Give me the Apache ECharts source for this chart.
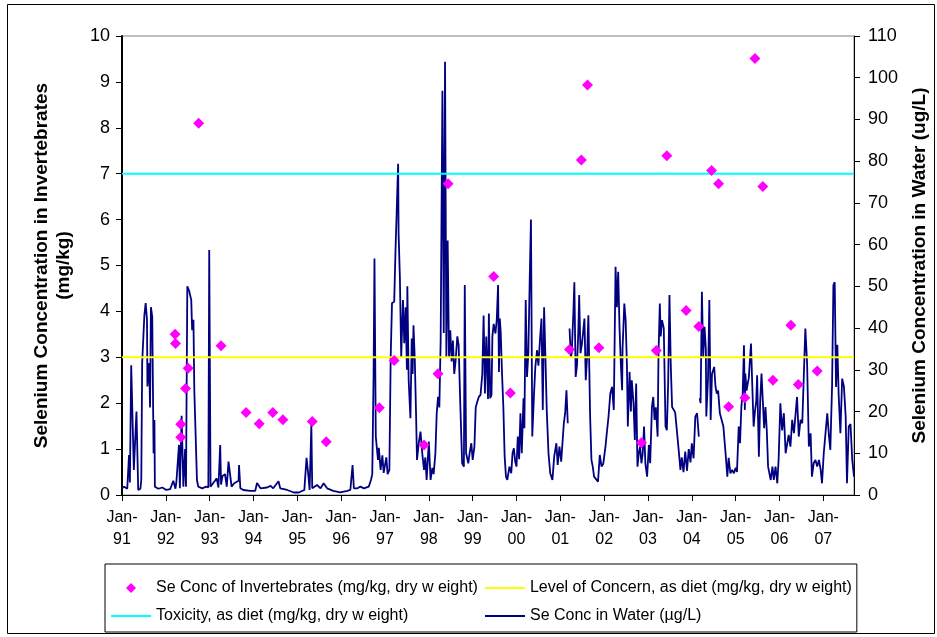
<!DOCTYPE html>
<html>
<head>
<meta charset="utf-8">
<script src="https://cdn.jsdelivr.net/npm/echarts@6/dist/echarts.min.js"></script>
<style>
  html, body { margin: 0; padding: 0; background: #fff; }
  #chart { width: 937px; height: 637px; }
</style>
</head>
<body>
<div id="chart"></div>
<script>
// x axis runs in decimal years, labelled Jan-yy
var yearStart = 1991
var yearEnd = 2007.70

// Se in invertebrates, mg/kg dry weight  [year, value]
var invertebrates = [
  [1992.21, 3.50], [1992.22, 3.30], [1992.34, 1.54], [1992.34, 1.26], [1992.45, 2.32],
  [1992.51, 2.76], [1992.75, 8.10], [1993.26, 3.25], [1993.83, 1.80], [1994.13, 1.55],
  [1994.44, 1.80], [1994.67, 1.64], [1995.34, 1.60], [1995.66, 1.16], [1996.87, 1.90],
  [1997.21, 2.93], [1997.89, 1.09], [1998.21, 2.64], [1998.44, 6.78], [1999.48, 4.76],
  [1999.86, 2.22], [2001.21, 3.17], [2001.48, 7.30], [2001.62, 8.93], [2001.88, 3.21],
  [2002.85, 1.14], [2003.19, 3.15], [2003.43, 7.39], [2003.87, 4.02], [2004.16, 3.67],
  [2004.45, 7.07], [2004.61, 6.78], [2004.84, 1.92], [2005.21, 2.12], [2005.44, 9.51],
  [2005.62, 6.72], [2005.85, 2.50], [2006.26, 3.70], [2006.43, 2.41], [2006.86, 2.70]
]

var concernLevel = 3
var toxicityLevel = 7

// Se in water, ug/L  [year, value], null = gap in record
var water = [
  [1991.00,1.6],[1991.05,2.0],[1991.12,1.5],[1991.16,9.6],[1991.18,3.0],[1991.21,31.1],[1991.27,6.0],[1991.33,20.0],[1991.37,1.2],[1991.42,1.5],[1991.44,3.6],[1991.46,31.6],[1991.51,43.0],[1991.54,46.0],[1991.57,42.0],[1991.58,26.0],[1991.62,31.6],[1991.64,21.0],[1991.66,45.0],[1991.69,42.7],[1991.72,10.0],[1991.74,18.0],[1991.75,2.0],[1991.83,1.5],[1991.92,1.8],
  [1992.01,1.2],[1992.10,1.4],[1992.17,3.4],[1992.22,1.5],[1992.24,3.0],[1992.30,12.0],[1992.32,1.6],[1992.36,19.0],[1992.40,2.0],[1992.44,11.0],[1992.46,2.0],[1992.49,50.0],[1992.53,49.0],[1992.58,46.7],[1992.60,39.5],[1992.63,42.0],[1992.65,25.0],[1992.68,24.7],[1992.71,3.6],[1992.74,2.0],[1992.83,1.6],[1992.92,2.0],[1992.97,1.8],[1992.99,58.7],
  [1993.02,2.0],[1993.12,3.4],[1993.16,4.0],[1993.20,1.8],[1993.24,12.0],[1993.26,2.5],[1993.29,4.5],[1993.35,5.0],[1993.39,2.0],[1993.43,8.0],[1993.50,2.0],[1993.56,2.8],[1993.66,3.4],[1993.67,7.2],[1993.70,1.6],[1993.77,1.2],[1993.93,1.0],
  [1994.04,1.0],[1994.08,2.9],[1994.16,1.6],[1994.31,1.8],[1994.39,2.2],[1994.45,1.6],[1994.57,3.3],[1994.61,1.6],[1994.77,1.2],[1994.92,0.6],
  [1995.03,0.6],[1995.16,1.2],[1995.21,8.9],[1995.25,4.9],[1995.28,1.2],[1995.32,16.8],[1995.34,1.6],[1995.45,2.4],[1995.53,1.6],[1995.60,2.8],[1995.68,1.6],[1995.82,1.0],[1995.98,0.6],
  [1996.14,1.0],[1996.21,1.2],[1996.26,7.2],[1996.29,1.6],[1996.37,1.6],[1996.44,2.0],[1996.52,1.6],[1996.63,2.0],[1996.68,3.6],[1996.71,5.0],[1996.74,29.0],[1996.76,56.7],[1996.79,14.0],[1996.84,8.4],[1996.86,11.3],[1996.90,6.0],[1996.94,9.5],[1996.97,5.3],
  [1997.03,9.0],[1997.06,5.0],[1997.10,6.0],[1997.13,33.0],[1997.16,46.0],[1997.21,46.3],[1997.24,58.7],[1997.27,69.0],[1997.30,79.4],[1997.31,62.7],[1997.34,52.0],[1997.37,33.0],[1997.41,46.7],[1997.44,36.4],[1997.47,45.0],[1997.50,30.0],[1997.51,50.0],[1997.54,27.5],[1997.58,18.4],[1997.61,37.5],[1997.63,29.0],[1997.65,40.7],[1997.68,32.3],[1997.71,18.8],[1997.73,8.4],[1997.77,12.4],[1997.81,15.2],[1997.85,10.0],[1997.89,6.0],[1997.92,9.0],[1997.95,3.6],
  [1998.00,12.8],[1998.04,3.6],[1998.08,6.5],[1998.11,5.0],[1998.15,10.0],[1998.18,19.6],[1998.21,23.5],[1998.24,21.0],[1998.27,37.0],[1998.31,96.9],[1998.34,38.8],[1998.37,103.8],[1998.40,33.0],[1998.43,61.0],[1998.46,33.0],[1998.49,39.5],[1998.52,32.0],[1998.55,37.0],[1998.58,29.0],[1998.61,32.0],[1998.65,38.0],[1998.68,36.0],[1998.72,21.0],[1998.76,7.6],[1998.80,6.8],[1998.82,50.3],[1998.85,10.0],[1998.90,7.6],[1998.93,10.0],[1998.97,12.4],
  [1999.00,8.4],[1999.04,11.6],[1999.07,21.0],[1999.11,22.5],[1999.14,23.5],[1999.18,24.0],[1999.22,29.0],[1999.25,43.0],[1999.28,24.3],[1999.31,38.0],[1999.35,23.0],[1999.37,43.5],[1999.40,23.2],[1999.43,24.0],[1999.45,38.0],[1999.48,41.0],[1999.52,38.7],[1999.55,42.0],[1999.58,50.3],[1999.60,29.5],[1999.62,42.3],[1999.64,39.0],[1999.67,29.1],[1999.70,21.1],[1999.73,9.2],[1999.76,4.4],[1999.79,3.6],[1999.84,6.8],[1999.88,5.2],[1999.91,10.0],[1999.94,11.2],[1999.97,8.0],
  [2000.00,6.8],[2000.03,14.0],[2000.06,8.6],[2000.09,19.6],[2000.12,10.0],[2000.16,23.2],[2000.18,16.0],[2000.21,46.7],[2000.24,28.3],[2000.27,33.9],[2000.30,50.7],[2000.33,66.0],[2000.36,14.0],[2000.40,24.3],[2000.43,30.7],[2000.47,34.7],[2000.50,31.0],[2000.54,37.9],[2000.57,42.3],[2000.60,20.4],[2000.63,45.0],[2000.66,33.0],[2000.69,20.4],[2000.73,10.0],[2000.77,5.2],[2000.82,3.6],[2000.86,9.2],[2000.91,12.4],[2000.94,7.2],[2000.98,11.6],
  [2001.02,8.0],[2001.08,17.2],[2001.11,19.6],[2001.14,25.1],[2001.17,17.2],[2001.19,null],[2001.21,39.9],[2001.24,33.0],[2001.26,34.0],[2001.30,44.3],[2001.32,51.0],[2001.35,28.3],[2001.38,31.0],[2001.41,39.0],[2001.43,47.9],[2001.46,34.0],[2001.49,36.0],[2001.52,39.0],[2001.55,42.3],[2001.58,27.5],[2001.61,33.0],[2001.64,43.1],[2001.68,18.8],[2001.71,8.4],[2001.74,6.8],[2001.77,4.4],[2001.81,4.4],[2001.86,3.2],[2001.90,9.6],[2001.94,6.8],[2001.98,7.5],
  [2002.03,11.6],[2002.06,14.8],[2002.10,18.8],[2002.14,24.3],[2002.18,25.9],[2002.22,20.4],[2002.26,54.7],[2002.29,45.0],[2002.32,53.5],[2002.35,40.3],[2002.38,31.5],[2002.41,25.1],[2002.42,35.0],[2002.46,45.9],[2002.49,41.9],[2002.52,31.0],[2002.54,16.4],[2002.58,29.5],[2002.61,20.0],[2002.63,27.5],[2002.67,22.0],[2002.70,13.2],[2002.73,26.7],[2002.76,6.8],[2002.79,10.0],[2002.82,11.6],[2002.85,7.6],[2002.88,10.0],[2002.91,16.4],[2002.94,7.6],[2002.98,4.4],
  [2003.02,12.0],[2003.05,7.6],[2003.09,21.1],[2003.12,23.5],[2003.15,18.0],[2003.18,21.0],[2003.22,14.0],[2003.24,33.9],[2003.27,45.9],[2003.29,38.0],[2003.32,41.9],[2003.36,40.0],[2003.40,16.4],[2003.43,15.5],[2003.46,26.7],[2003.49,47.9],[2003.52,31.0],[2003.55,21.1],[2003.59,21.0],[2003.62,19.8],[2003.66,19.6],[2003.70,10.8],[2003.74,6.0],[2003.77,9.0],[2003.81,5.5],[2003.85,10.4],[2003.89,5.8],[2003.93,11.0],[2003.97,7.8],
  [2004.00,12.4],[2004.04,8.8],[2004.08,18.8],[2004.12,19.6],[2004.16,14.0],[2004.17,null],[2004.18,23.2],[2004.20,22.0],[2004.23,48.7],[2004.26,33.0],[2004.29,40.3],[2004.32,35.0],[2004.33,18.8],[2004.37,28.0],[2004.40,46.7],[2004.43,18.0],[2004.46,29.0],[2004.51,30.7],[2004.54,26.0],[2004.57,24.3],[2004.60,25.0],[2004.64,19.6],[2004.68,19.6],[2004.72,16.4],[2004.77,10.0],[2004.81,4.4],[2004.84,8.9],[2004.88,5.2],[2004.92,6.0],[2004.96,5.2],
  [2005.00,6.5],[2005.03,5.5],[2005.07,16.4],[2005.10,12.4],[2005.13,21.1],[2005.16,24.3],[2005.19,35.9],[2005.21,20.4],[2005.22,29.1],[2005.25,25.0],[2005.28,27.0],[2005.30,28.0],[2005.33,33.1],[2005.35,36.3],[2005.38,26.0],[2005.41,16.4],[2005.44,20.0],[2005.47,22.5],[2005.49,28.7],[2005.53,9.2],[2005.56,22.5],[2005.59,29.1],[2005.62,22.5],[2005.65,16.0],[2005.68,21.1],[2005.71,15.5],[2005.74,6.8],[2005.77,5.2],[2005.80,3.6],[2005.84,6.8],[2005.87,3.6],[2005.91,6.8],[2005.95,2.8],[2005.98,8.4],
  [2006.02,22.0],[2006.06,15.5],[2006.10,19.6],[2006.14,10.0],[2006.17,10.0],[2006.21,14.4],[2006.25,11.6],[2006.29,18.0],[2006.33,14.8],[2006.37,14.8],[2006.40,23.5],[2006.44,14.0],[2006.48,18.0],[2006.52,17.2],[2006.55,17.2],[2006.59,39.9],[2006.63,31.5],[2006.67,11.6],[2006.71,14.8],[2006.74,4.4],[2006.78,7.6],[2006.82,8.4],[2006.86,6.8],[2006.90,8.4],[2006.94,6.0],[2006.97,2.8],
  [2007.01,10.0],[2007.05,14.8],[2007.09,19.6],[2007.13,14.0],[2007.16,10.8],[2007.20,26.3],[2007.23,50.3],[2007.26,51.0],[2007.29,25.9],[2007.32,36.0],[2007.35,24.0],[2007.39,14.8],[2007.43,27.9],[2007.47,26.0],[2007.51,18.8],[2007.54,2.8],[2007.58,16.4],[2007.62,17.0],[2007.66,8.4],[2007.70,4.4]
]

var font = "'Liberation Sans', Arial, sans-serif"

var myChart = echarts.init(document.getElementById('chart'), null, { renderer: 'canvas' })

// line entries in the legend: plain line, no dot
var noDot = { opacity: 0 }

var option = {
  backgroundColor: '#fff',
  animation: false,
  textStyle: { fontFamily: font, color: '#000' },
  graphic: [{
    type: 'rect',
    shape: { x: 7.5, y: 4.5, width: 927, height: 629 },
    style: { fill: 'none', stroke: '#000', lineWidth: 1 },
    silent: true
  }],
  grid: {
    left: 122, right: 83, top: 36, bottom: 142,
    show: true, borderColor: '#808080', borderWidth: 1, backgroundColor: '#fff'
  },
  legend: {
    left: 105, top: 564,
    orient: 'horizontal',
    width: 760,
    padding: [13, 5, 5, 5],
    itemWidth: 40, itemHeight: 10, itemGap: 6,
    symbolKeepAspect: true,
    borderColor: '#000', borderWidth: 1,
    textStyle: { fontFamily: font, fontSize: 16, color: '#000', lineHeight: 22 },
    data: [
      { name: 'Se Conc of Invertebrates (mg/kg, dry w eight)', icon: 'path://M5,0L10,5L5,10L0,5Z' },
      { name: 'Level of Concern, as diet (mg/kg, dry w eight)', itemStyle: noDot },
      { name: 'Toxicity, as diet (mg/kg, dry w eight)', itemStyle: noDot,
        textStyle: { width: 322, overflow: 'none' } },
      { name: 'Se Conc in Water (µg/L)', itemStyle: noDot }
    ]
  },
  xAxis: {
    type: 'value',
    min: yearStart, max: yearEnd, interval: 1,
    axisLine: { lineStyle: { color: '#000', width: 1 } },
    axisTick: { length: 6, lineStyle: { color: '#000' } },
    splitLine: { show: false },
    axisLabel: {
      fontSize: 16, lineHeight: 22, margin: 12, color: '#000', showMaxLabel: false,
      formatter: function (v) {
        if (Math.abs(v - Math.round(v)) > 1e-6) return ''
        return 'Jan-\n' + String(Math.round(v)).slice(2)
      }
    }
  },
  yAxis: [{
    type: 'value', min: 0, max: 10, interval: 1, position: 'left',
    name: 'Selenium Concentration in Invertebrates\n(mg/kg)',
    nameLocation: 'middle', nameGap: 47,
    nameTextStyle: { fontSize: 19, fontWeight: 'bold', lineHeight: 22, color: '#000' },
    axisLine: { show: true, lineStyle: { color: '#000', width: 2 } },
    axisTick: { show: true, length: 6, lineStyle: { color: '#000' } },
    splitLine: { show: false },
    axisLabel: { fontSize: 18, color: '#000', margin: 12 }
  }, {
    type: 'value', min: 0, max: 110, interval: 10, position: 'right',
    name: 'Selenium Concentration in Water (ug/L)',
    nameLocation: 'middle', nameGap: 56,
    nameTextStyle: { fontSize: 19, fontWeight: 'bold', color: '#000' },
    axisLine: { show: true, lineStyle: { color: '#000', width: 1 } },
    axisTick: { show: true, length: 6, lineStyle: { color: '#000' } },
    splitLine: { show: false },
    axisLabel: { fontSize: 18, color: '#000', margin: 14 }
  }],
  series: [{
    name: 'Se Conc in Water (µg/L)',
    type: 'line', yAxisIndex: 1, z: 2,
    symbol: 'none', connectNulls: false,
    lineStyle: { color: '#000080', width: 1.8 },
    itemStyle: { color: '#000080' },
    data: water.map(function (d) { return [d[0], d[1] === null ? '-' : d[1]] })
  }, {
    name: 'Level of Concern, as diet (mg/kg, dry w eight)',
    type: 'line', yAxisIndex: 0, z: 3, symbol: 'none',
    lineStyle: { color: '#FFFF00', width: 2 },
    itemStyle: { color: '#FFFF00' },
    data: [[yearStart, concernLevel], [yearEnd, concernLevel]]
  }, {
    name: 'Toxicity, as diet (mg/kg, dry w eight)',
    type: 'line', yAxisIndex: 0, z: 3, symbol: 'none',
    lineStyle: { color: '#00FFFF', width: 2 },
    itemStyle: { color: '#00FFFF' },
    data: [[yearStart, toxicityLevel], [yearEnd, toxicityLevel]]
  }, {
    name: 'Se Conc of Invertebrates (mg/kg, dry w eight)',
    type: 'scatter', yAxisIndex: 0, z: 4,
    symbol: 'diamond', symbolSize: 11, symbolKeepAspect: true,
    itemStyle: { color: '#FF00FF', opacity: 1 },
    data: invertebrates
  }]
}

myChart.setOption(option)
window.addEventListener('resize', function () { myChart.resize() })
</script>
</body>
</html>
